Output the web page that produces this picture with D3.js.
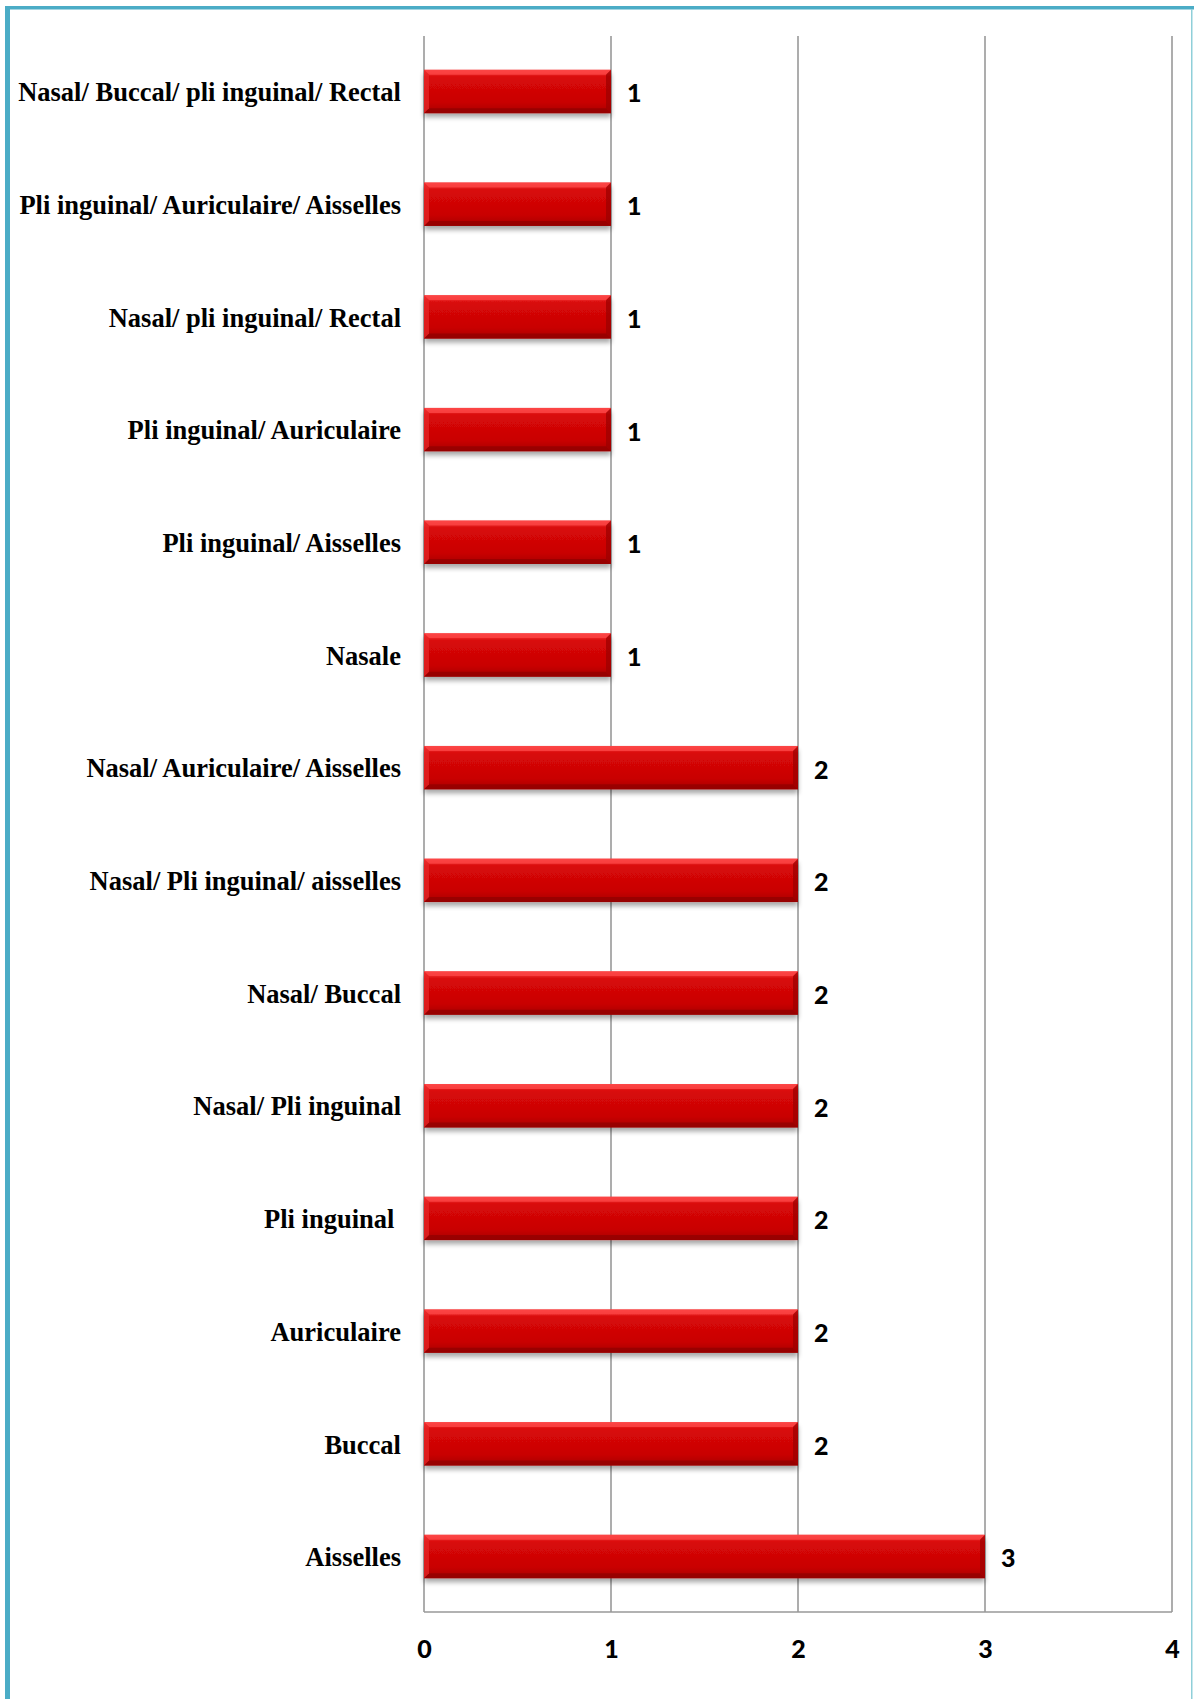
<!DOCTYPE html>
<html>
<head>
<meta charset="utf-8">
<script src="https://cdn.jsdelivr.net/npm/d3@7/dist/d3.min.js"></script>
<style>
  html, body { margin: 0; padding: 0; background: #ffffff; }
  svg { display: block; }
</style>
</head>
<body>
<script>
const categories = [
  "Nasal/ Buccal/ pli inguinal/ Rectal",
  "Pli inguinal/ Auriculaire/ Aisselles",
  "Nasal/ pli inguinal/ Rectal",
  "Pli inguinal/ Auriculaire",
  "Pli inguinal/ Aisselles",
  "Nasale",
  "Nasal/ Auriculaire/ Aisselles",
  "Nasal/ Pli inguinal/ aisselles",
  "Nasal/ Buccal",
  "Nasal/ Pli inguinal",
  "Pli inguinal ",
  "Auriculaire",
  "Buccal",
  "Aisselles"
];
const values = [1, 1, 1, 1, 1, 1, 2, 2, 2, 2, 2, 2, 2, 3];
const tickValues = [0, 1, 2, 3, 4];

const W = 1194, H = 1699;
const plot = { left: 424, right: 1172, top: 36, bottom: 1612 };

const svg = d3.select("body").append("svg").attr("width", W).attr("height", H);
const defs = svg.append("defs");

const g1 = defs.append("linearGradient").attr("id", "barGrad").attr("x1", 0).attr("y1", 0).attr("x2", 0).attr("y2", 1);
g1.append("stop").attr("offset", "0%").attr("stop-color", "#f23a3a");
g1.append("stop").attr("offset", "18%").attr("stop-color", "#d80808");
g1.append("stop").attr("offset", "75%").attr("stop-color", "#c90404");
g1.append("stop").attr("offset", "100%").attr("stop-color", "#a80000");

const f = defs.append("filter").attr("id", "shadow").attr("x", "-5%").attr("y", "-30%").attr("width", "110%").attr("height", "180%");
f.append("feGaussianBlur").attr("in", "SourceAlpha").attr("stdDeviation", 2.5).attr("result", "b");
f.append("feOffset").attr("in", "b").attr("dx", 0).attr("dy", 4).attr("result", "o");
f.append("feComponentTransfer").attr("in", "o").attr("result", "s")
  .append("feFuncA").attr("type", "linear").attr("slope", 0.35);
const fm = f.append("feMerge");
fm.append("feMergeNode").attr("in", "s");
fm.append("feMergeNode").attr("in", "SourceGraphic");

// frame border
svg.append("rect").attr("x", 5).attr("y", 6).attr("width", W - 5).attr("height", 3.5).attr("fill", "#4bacc6");
svg.append("rect").attr("x", 5).attr("y", 6).attr("width", 5).attr("height", H - 6).attr("fill", "#4bacc6");
svg.append("rect").attr("x", 1191).attr("y", 9).attr("width", 1.5).attr("height", H - 9).attr("fill", "#8fcfd9");

const x = d3.scaleLinear().domain([0, 4]).range([plot.left, plot.right]);
const y = d3.scaleBand().domain(categories).range([plot.top, plot.bottom]).paddingInner(0.615).paddingOuter(0.3);

// gridlines
svg.append("g").selectAll("line").data(tickValues).join("line")
  .attr("x1", d => x(d)).attr("x2", d => x(d))
  .attr("y1", plot.top).attr("y2", plot.bottom)
  .attr("stroke", "#999999").attr("stroke-width", 1.6);
// bottom axis line
svg.append("line").attr("x1", plot.left).attr("x2", plot.right)
  .attr("y1", plot.bottom).attr("y2", plot.bottom)
  .attr("stroke", "#999999").attr("stroke-width", 1.6);

// tick labels via axis
const axis = d3.axisBottom(x).tickValues(tickValues).tickSize(0).tickPadding(0).tickFormat(d3.format("d"));
const ax = svg.append("g").attr("transform", `translate(0,${plot.bottom})`).call(axis);
ax.select(".domain").remove();
ax.selectAll("text")
  .attr("y", 37).attr("dy", "0.36em")
  .attr("font-family", "Lato, 'Open Sans', sans-serif").attr("font-weight", "900")
  .attr("font-size", 25).attr("fill", "#000");

// bars
const bars = svg.append("g").selectAll("g").data(categories).join("g")
  .attr("transform", d => `translate(0,${y(d)})`);
const bh = y.bandwidth();
bars.append("rect")
  .attr("x", x(0)).attr("y", 0)
  .attr("width", (d, i) => x(values[i]) - x(0)).attr("height", bh)
  .attr("fill", "url(#barGrad)").attr("filter", "url(#shadow)");
const bv = 5;
bars.append("path")
  .attr("d", (d, i) => {
    const x0 = x(0), x1 = x(values[i]);
    return `M${x0},0 L${x1},0 L${x1 - bv},${bv} L${x0 + bv},${bv} Z`;
  })
  .attr("fill", "#ff4a4a").attr("opacity", 0.75);
bars.append("path")
  .attr("d", (d, i) => {
    const x0 = x(0), x1 = x(values[i]);
    return `M${x0},${bh} L${x1},${bh} L${x1 - bv},${bh - bv} L${x0 + bv},${bh - bv} Z`;
  })
  .attr("fill", "#8e0000").attr("opacity", 0.7);
bars.append("path")
  .attr("d", (d, i) => {
    const x1 = x(values[i]);
    return `M${x1},0 L${x1},${bh} L${x1 - bv},${bh - bv} L${x1 - bv},${bv} Z`;
  })
  .attr("fill", "#9a0000").attr("opacity", 0.7);
bars.append("path")
  .attr("d", () => {
    const x0 = x(0);
    return `M${x0},0 L${x0},${bh} L${x0 + bv},${bh - bv} L${x0 + bv},${bv} Z`;
  })
  .attr("fill", "#e82a2a").attr("opacity", 0.7);

// value labels
bars.append("text")
  .attr("x", (d, i) => x(values[i]) + 16)
  .attr("y", bh / 2 + 2).attr("dy", "0.36em")
  .attr("font-family", "Lato, 'Open Sans', sans-serif").attr("font-weight", "900")
  .attr("font-size", 25).attr("fill", "#000")
  .text((d, i) => values[i]);

// category labels
svg.append("g").selectAll("text").data(categories).join("text")
  .attr("x", 401).attr("y", d => y(d) + bh / 2 + 1).attr("dy", "0.33em")
  .attr("text-anchor", "end")
  .style("white-space", "pre")
  .attr("font-family", "'Liberation Serif', 'Times New Roman', serif").attr("font-weight", "bold")
  .attr("font-size", 26.5).attr("fill", "#000")
  .text(d => d);
</script>
</body>
</html>
